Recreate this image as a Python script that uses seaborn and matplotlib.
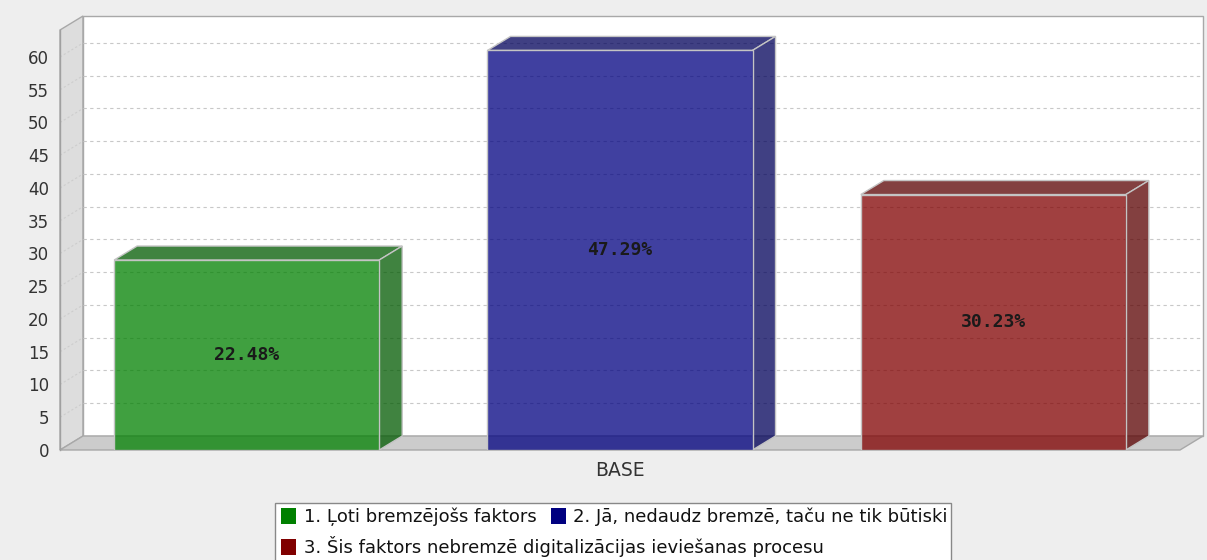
import matplotlib
matplotlib.use("Agg")
import matplotlib.pyplot as plt
import pandas as pd
import seaborn as sns
from matplotlib.patches import Polygon, Rectangle, Patch
from matplotlib.colors import to_rgb

# ---- data -------------------------------------------------------------
group_labels = ["BASE"]
series_names = [
    "1. Ļoti bremzējošs faktors",
    "2. Jā, nedaudz bremzē, taču ne tik būtiski",
    "3. Šis faktors nebremzē digitalizācijas ieviešanas procesu",
]
response_counts = [29, 61, 39]
series_colors = ["#008000", "#000080", "#800000"]
y_tick_values = [0, 5, 10, 15, 20, 25, 30, 35, 40, 45, 50, 55, 60]

# ---- figure / layout ---------------------------------------------------
W, H, DPI = 1207, 560, 100
AX_L, AX_B, AX_W, AX_H = 60, 110, 1120, 420   # front plane of the 3D box, px
DEPTH_X, DEPTH_Y = 23, 14                      # 3D depth offset, px
Y_MAX = 64.12

sns.set_style("white")
plt.rcParams["font.family"] = ["DejaVu Sans"]

fig = plt.figure(figsize=(W / DPI, H / DPI), dpi=DPI, facecolor="#eeeeee")
ax = fig.add_axes([AX_L / W, AX_B / H, AX_W / W, AX_H / H])
ax.patch.set_visible(False)

df = pd.DataFrame({
    "group": group_labels * len(series_names),
    "series": series_names,
    "count": response_counts,
})

sns.barplot(
    data=df, x="group", y="count", hue="series", hue_order=series_names,
    palette=series_colors, saturation=1, width=1.0, gap=0.29,
    errorbar=None, edgecolor="#c4c4c4", linewidth=1.0, legend=False,
    ax=ax, zorder=4,
)
bars = list(ax.patches)

ax.set_xlim(-0.5, 0.5)
ax.set_ylim(0, Y_MAX)

# depth offset expressed in data units
dxd = DEPTH_X / AX_W * 1.0
dyd = DEPTH_Y / AX_H * Y_MAX
x_lo, x_hi = -0.5, 0.5

edge_col = "#a8a8a8"
# left wall, back wall, floor
ax.add_patch(Polygon([(x_lo, 0), (x_lo + dxd, dyd), (x_lo + dxd, Y_MAX + dyd), (x_lo, Y_MAX)],
                     closed=True, fc="#dddddd", ec=edge_col, lw=1, zorder=0, clip_on=False))
ax.add_patch(Rectangle((x_lo + dxd, dyd), x_hi - x_lo, Y_MAX,
                       fc="white", ec=edge_col, lw=1, zorder=0, clip_on=False))
ax.add_patch(Polygon([(x_lo, 0), (x_hi, 0), (x_hi + dxd, dyd), (x_lo + dxd, dyd)],
                     closed=True, fc="#cccccc", ec=edge_col, lw=1, zorder=1, clip_on=False))

# dashed gridlines on the back wall plus their run across the left wall
for t in y_tick_values[1:]:
    ax.plot([x_lo + dxd, x_hi + dxd], [t + dyd, t + dyd], ls=(0, (3, 3)),
            color="#c8c8c8", lw=0.8, zorder=2, clip_on=False)
    ax.plot([x_lo, x_lo + dxd], [t, t + dyd], ls=(0, (2, 2)),
            color="#cdcdcd", lw=0.8, zorder=2, clip_on=False)

# translucent 3D bars: front face from seaborn, top and side faces added
total = sum(response_counts)
for bar, color, count in zip(bars, series_colors, response_counts):
    rgb = to_rgb(color)
    bar.set_facecolor((*rgb, 0.75))
    x0, w, h = bar.get_x(), bar.get_width(), bar.get_height()
    x1 = x0 + w
    dark = tuple(c * 0.7 for c in rgb)
    ax.add_patch(Polygon([(x0, h), (x1, h), (x1 + dxd, h + dyd), (x0 + dxd, h + dyd)],
                         closed=True, fc=(*dark, 0.75), ec="#c4c4c4", lw=1, zorder=3, clip_on=False))
    ax.add_patch(Polygon([(x1, 0), (x1 + dxd, dyd), (x1 + dxd, h + dyd), (x1, h)],
                         closed=True, fc=(*dark, 0.75), ec="#c4c4c4", lw=1, zorder=3, clip_on=False))
    ax.text(x0 + w / 2, h / 2, f"{count / total * 100:.2f}%", ha="center", va="center",
            family="DejaVu Sans Mono", fontweight="bold", fontsize=13, color="#1a1a1a", zorder=6)

# axes styling
for s in ["top", "right", "bottom"]:
    ax.spines[s].set_visible(False)
ax.spines["left"].set_color("#a0a0a0")
ax.spines["left"].set_linewidth(1)
ax.set_yticks(y_tick_values)
ax.tick_params(axis="y", length=4, width=1, color="#a0a0a0", pad=4,
               labelsize=12, labelcolor="#333333")
ax.tick_params(axis="x", length=0, pad=8, labelsize=13.5, labelcolor="#333333")
ax.set_xlabel("")
ax.set_ylabel("")

# legend: white box with two rows
fig.add_artist(Rectangle((275 / W, -10 / H), 676 / W, (57 + 10) / H, transform=fig.transFigure,
                         fc="white", ec="#888888", lw=1, zorder=1))
handles = [Patch(facecolor=c, edgecolor="none") for c in series_colors]
leg_kw = dict(loc="upper left", frameon=False, fontsize=13, handlelength=0.85,
              handleheight=1.0, handletextpad=0.4, columnspacing=0.8,
              borderpad=0, borderaxespad=0, labelcolor="#111111")
fig.legend(handles[:2], series_names[:2], ncol=2,
           bbox_to_anchor=(281 / W, (H - 508) / H), **leg_kw)
fig.legend(handles[2:], series_names[2:], ncol=1,
           bbox_to_anchor=(281 / W, (H - 536) / H), **leg_kw)

fig.savefig("out.png", dpi=DPI, facecolor=fig.get_facecolor())
